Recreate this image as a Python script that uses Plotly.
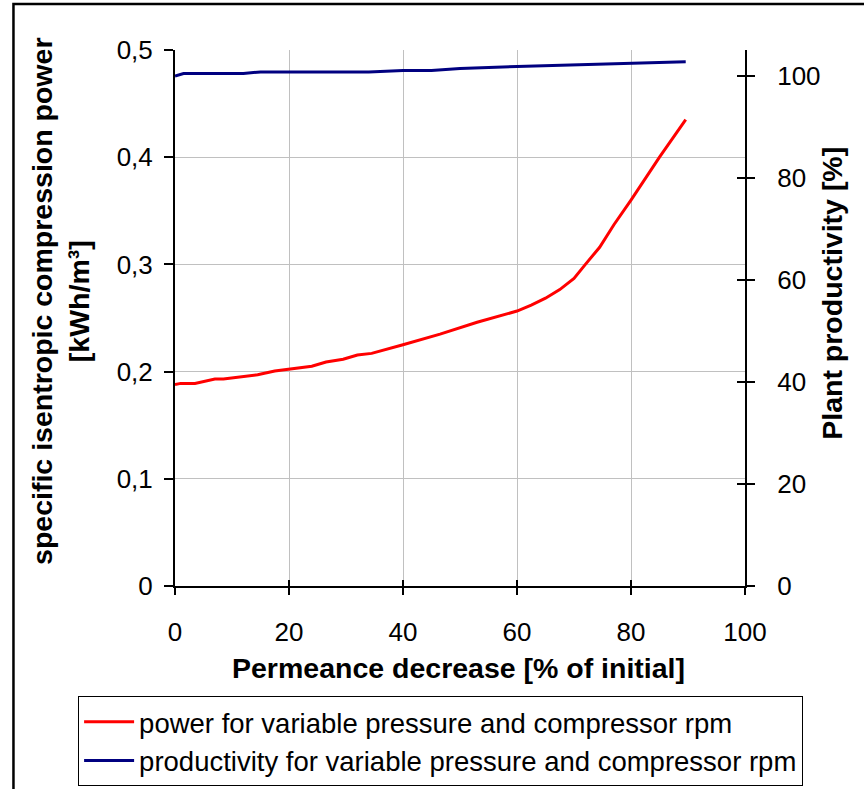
import plotly.graph_objects as go

# Data
power_x = [0, 1, 3.5, 7, 8.5, 14.5, 17.5, 20, 24, 26.5, 29.5, 32, 34.5, 40, 46.5, 53, 60,
           62.5, 65, 67.5, 70, 72, 74.5, 77, 80, 85, 89.6]
power_y = [0.188, 0.189, 0.189, 0.193, 0.193, 0.197, 0.2005, 0.2025, 0.205, 0.209, 0.2115,
           0.2155, 0.217, 0.225, 0.235, 0.246, 0.2565, 0.262, 0.2685, 0.2765, 0.287, 0.300,
           0.316, 0.337, 0.360, 0.400, 0.435]

prod_x = [0, 1.5, 12, 15, 34, 40, 45, 50, 60, 70, 80, 89.6]
prod_y = [99.9, 100.4, 100.4, 100.7, 100.7, 101.0, 101.0, 101.4, 101.75, 102.07, 102.4, 102.7]

x_range = [0, 100]
y_left_range = [0, 0.5]
y_right_range = [0, 105]

x_title = "Permeance decrease [% of initial]"
y_title = "specific isentropic compression power<br>[kWh/m³]"
y2_title = "Plant productivity [%]"

FONT = "Liberation Sans, Arial, sans-serif"
TITLE_SIZE = 28.5

fig = go.Figure()
fig.add_trace(go.Scatter(x=power_x, y=power_y, mode="lines",
                         line=dict(color="#FF0000", width=3), legendgroup="a",
                         name="power for variable pressure and compressor rpm",
                         xaxis="x", yaxis="y"))
fig.add_trace(go.Scatter(x=prod_x, y=prod_y, mode="lines",
                         line=dict(color="#000080", width=3), legendgroup="b",
                         name="productivity for variable pressure and compressor rpm",
                         xaxis="x", yaxis="y2"))
# invisible trace to carry the inside-tick overlay axes
fig.add_trace(go.Scatter(x=[None], y=[None], mode="lines", showlegend=False,
                         hoverinfo="skip", xaxis="x3", yaxis="y3"))

fig.update_layout(
    width=864, height=789,
    margin=dict(l=175, r=119, t=50, b=203, autoexpand=False),
    paper_bgcolor="white", plot_bgcolor="white",
    separators=", ",
    font=dict(family=FONT, size=26, color="black"),
    showlegend=True,
    legend=dict(x=-0.170, y=-0.206, xanchor="left", yanchor="top",
                bordercolor="black", borderwidth=1, bgcolor="white",
                font=dict(size=27.5), itemwidth=50, tracegroupgap=0),
    xaxis=dict(range=x_range, dtick=20, tick0=0, showgrid=True, gridcolor="#c0c0c0",
               gridwidth=1, zeroline=False, showline=True, linecolor="black", linewidth=2,
               ticks="outside", ticklen=7, tickwidth=1.5, tickcolor="black",
               ticklabelstandoff=15),
    yaxis=dict(range=y_left_range, dtick=0.1, tick0=0, showgrid=True, gridcolor="#c0c0c0",
               gridwidth=1, zeroline=False, showline=True, linecolor="black", linewidth=2,
               ticks="outside", ticklen=9, tickwidth=1.5, tickcolor="black",
               ticklabelstandoff=6),
    yaxis2=dict(range=y_right_range, tickvals=[0, 20, 40, 60, 80, 100], overlaying="y",
                side="right", anchor="x", showgrid=False, zeroline=False, showline=True,
                linecolor="black", linewidth=2, ticks="outside", ticklen=8, tickwidth=1.5,
                tickcolor="black", ticklabelstandoff=17),
    xaxis3=dict(range=x_range, dtick=20, tick0=0, overlaying="x", anchor="y3", side="bottom",
                showgrid=False, zeroline=False, showline=False, showticklabels=False,
                ticks="inside", ticklen=6, tickwidth=1.5, tickcolor="black"),
    yaxis3=dict(range=y_right_range, tickvals=[0, 20, 40, 60, 80, 100], overlaying="y",
                side="right", anchor="x3", showgrid=False, zeroline=False, showline=False,
                showticklabels=False, ticks="inside", ticklen=8, tickwidth=1.5,
                tickcolor="black"),
    annotations=[
        dict(text=f"<b>{x_title}</b>", xref="paper", yref="paper", x=0.4965, y=-0.153,
             xanchor="center", yanchor="middle", showarrow=False,
             font=dict(size=TITLE_SIZE)),
        dict(text=f"<b>{y_title.split('<br>')[0]}</b><br><b>{y_title.split('<br>')[1]}</b>",
             xref="paper", yref="paper", x=-0.2, y=0.53, textangle=-90,
             xanchor="center", yanchor="middle", showarrow=False,
             font=dict(size=TITLE_SIZE)),
        dict(text=f"<b>{y2_title}</b>", xref="paper", yref="paper", x=1.1525, y=0.547,
             textangle=-90, xanchor="center", yanchor="middle", showarrow=False,
             font=dict(size=TITLE_SIZE)),
    ],
    shapes=[dict(type="rect", xref="paper", yref="paper",
                 x0=-0.2834, y0=-0.6, x1=1.6, y1=1.0858,
                 line=dict(color="black", width=2.5), fillcolor="rgba(0,0,0,0)",
                 layer="above")],
)

fig.write_html("out.html")
